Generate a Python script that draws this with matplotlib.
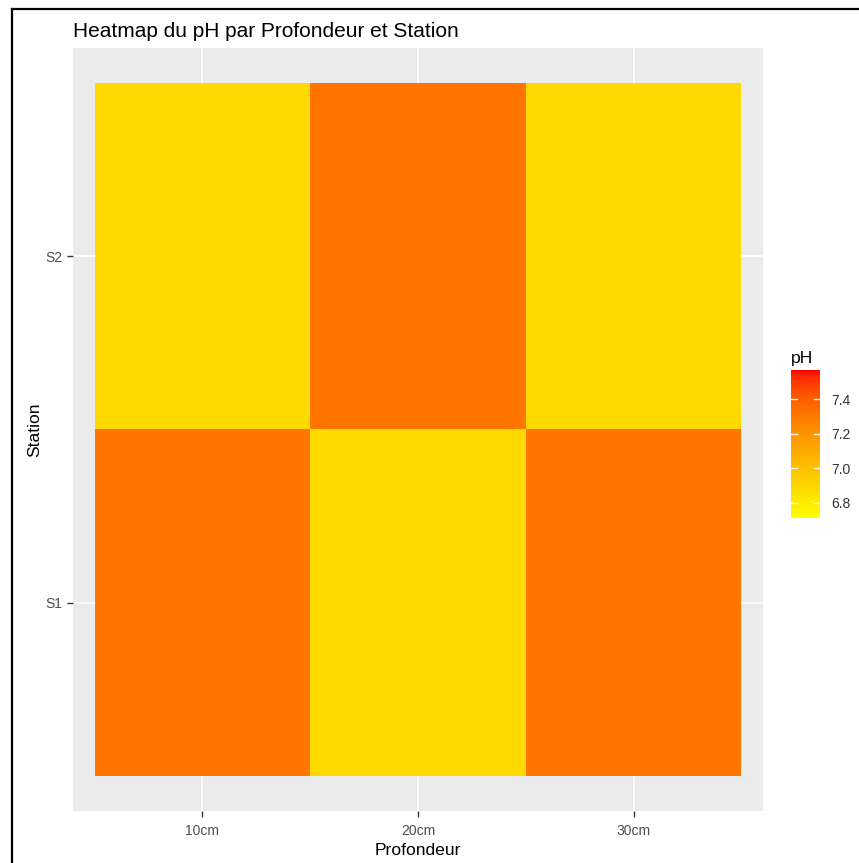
import matplotlib
matplotlib.use("Agg")
import matplotlib.pyplot as plt
import numpy as np
from matplotlib.colors import ListedColormap, Normalize
from matplotlib.lines import Line2D

plt.rcParams['font.family'] = ['Liberation Sans', 'DejaVu Sans']

# Data
profondeurs = ["10cm", "20cm", "30cm"]
stations = ["S1", "S2"]
ph_s1 = [7.32, 6.89, 7.32]
ph_s2 = [6.89, 7.32, 6.89]
ph_limits = [6.71, 7.57]   # full range of the measurements (colour scale)
cbar_ticks = [6.8, 7.0, 7.2, 7.4]

ph = np.array([ph_s1, ph_s2])


# yellow -> red gradient interpolated in CIELAB (like ggplot2)
def srgb_to_lab(c):
    c = np.asarray(c, float)
    lin = np.where(c <= 0.04045, c / 12.92, ((c + 0.055) / 1.055) ** 2.4)
    M = np.array([[0.4124, 0.3576, 0.1805],
                  [0.2126, 0.7152, 0.0722],
                  [0.0193, 0.1192, 0.9505]])
    xyz = M @ lin / np.array([0.95047, 1.0, 1.08883])
    f = np.where(xyz > 0.008856, np.cbrt(xyz), 7.787 * xyz + 16 / 116)
    return np.array([116 * f[1] - 16, 500 * (f[0] - f[1]), 200 * (f[1] - f[2])])


def lab_to_srgb(lab):
    L, a, b = lab
    fy = (L + 16) / 116
    fx = fy + a / 500
    fz = fy - b / 200
    f = np.array([fx, fy, fz])
    xyz = np.where(f ** 3 > 0.008856, f ** 3, (f - 16 / 116) / 7.787)
    xyz = xyz * np.array([0.95047, 1.0, 1.08883])
    Minv = np.array([[3.2406, -1.5372, -0.4986],
                     [-0.9689, 1.8758, 0.0415],
                     [0.0557, -0.2040, 1.0570]])
    lin = np.clip(Minv @ xyz, 0, 1)
    c = np.where(lin <= 0.0031308, 12.92 * lin, 1.055 * lin ** (1 / 2.4) - 0.055)
    return np.clip(c, 0, 1)


lab_lo = srgb_to_lab([1, 1, 0])
lab_hi = srgb_to_lab([1, 0, 0])
ramp = [lab_to_srgb(lab_lo + t * (lab_hi - lab_lo)) for t in np.linspace(0, 1, 256)]
cmap = ListedColormap(ramp)
norm = Normalize(vmin=ph_limits[0], vmax=ph_limits[1])

W, H = 859, 863
fig = plt.figure(figsize=(W / 100, H / 100), dpi=100)

ax = fig.add_axes([73 / W, 1 - 811 / H, (763 - 73) / W, (811 - 48) / H])
ax.set_facecolor("#EBEBEB")
for s in ax.spines.values():
    s.set_visible(False)

nx, ny = len(profondeurs), len(stations)
ax.set_xlim(-0.6, nx - 0.4)
ax.set_ylim(-0.6, ny - 0.4)
ax.set_xticks(range(nx))
ax.set_xticklabels(profondeurs)
ax.set_yticks(range(ny))
ax.set_yticklabels(stations)
ax.grid(True, color="white", linewidth=1.1)
ax.set_axisbelow(True)
ax.tick_params(colors="#333333", labelcolor="#4D4D4D", labelsize=10, length=4, width=1)
ax.tick_params(axis="x", pad=5)

ax.pcolormesh(np.arange(nx + 1) - 0.5, np.arange(ny + 1) - 0.5, ph,
              cmap=cmap, norm=norm, zorder=2)

ax.set_xlabel("Profondeur", fontsize=12.6, labelpad=4)
ax.set_ylabel("Station", fontsize=12.6, labelpad=2)

fig.text(73 / W, 1 - 37 / H, "Heatmap du pH par Profondeur et Station",
         fontsize=15, ha="left", va="baseline")

# colour bar
cax = fig.add_axes([791 / W, 1 - 518 / H, 29 / W, 148 / H])
grad = np.linspace(ph_limits[0], ph_limits[1], 300).reshape(-1, 1)
cax.imshow(grad, cmap=cmap, norm=norm, aspect="auto", origin="lower",
           extent=[0, 1, ph_limits[0], ph_limits[1]])
cax.set_xlim(0, 1)
cax.set_ylim(ph_limits)
cax.set_xticks([])
cax.yaxis.tick_right()
cax.set_yticks(cbar_ticks)
cax.set_yticklabels([f"{v:.1f}" for v in cbar_ticks])
cax.tick_params(axis="y", length=0, pad=8, labelsize=10, labelcolor="#333333")
for s in cax.spines.values():
    s.set_visible(False)
for v in cbar_ticks:
    cax.plot([0, 0.2], [v, v], color="white", lw=1)
    cax.plot([0.8, 1], [v, v], color="white", lw=1)
fig.text(791 / W, 1 - 363 / H, "pH", fontsize=12.6, ha="left", va="baseline")

# outer frame
fig.add_artist(Line2D([11.5 / W, 1], [1 - 9.5 / H, 1 - 9.5 / H], color="black", lw=1.6))
fig.add_artist(Line2D([11.5 / W, 11.5 / W], [0, 1 - 9.5 / H], color="black", lw=1.6))

fig.savefig("out.png", dpi=100)
